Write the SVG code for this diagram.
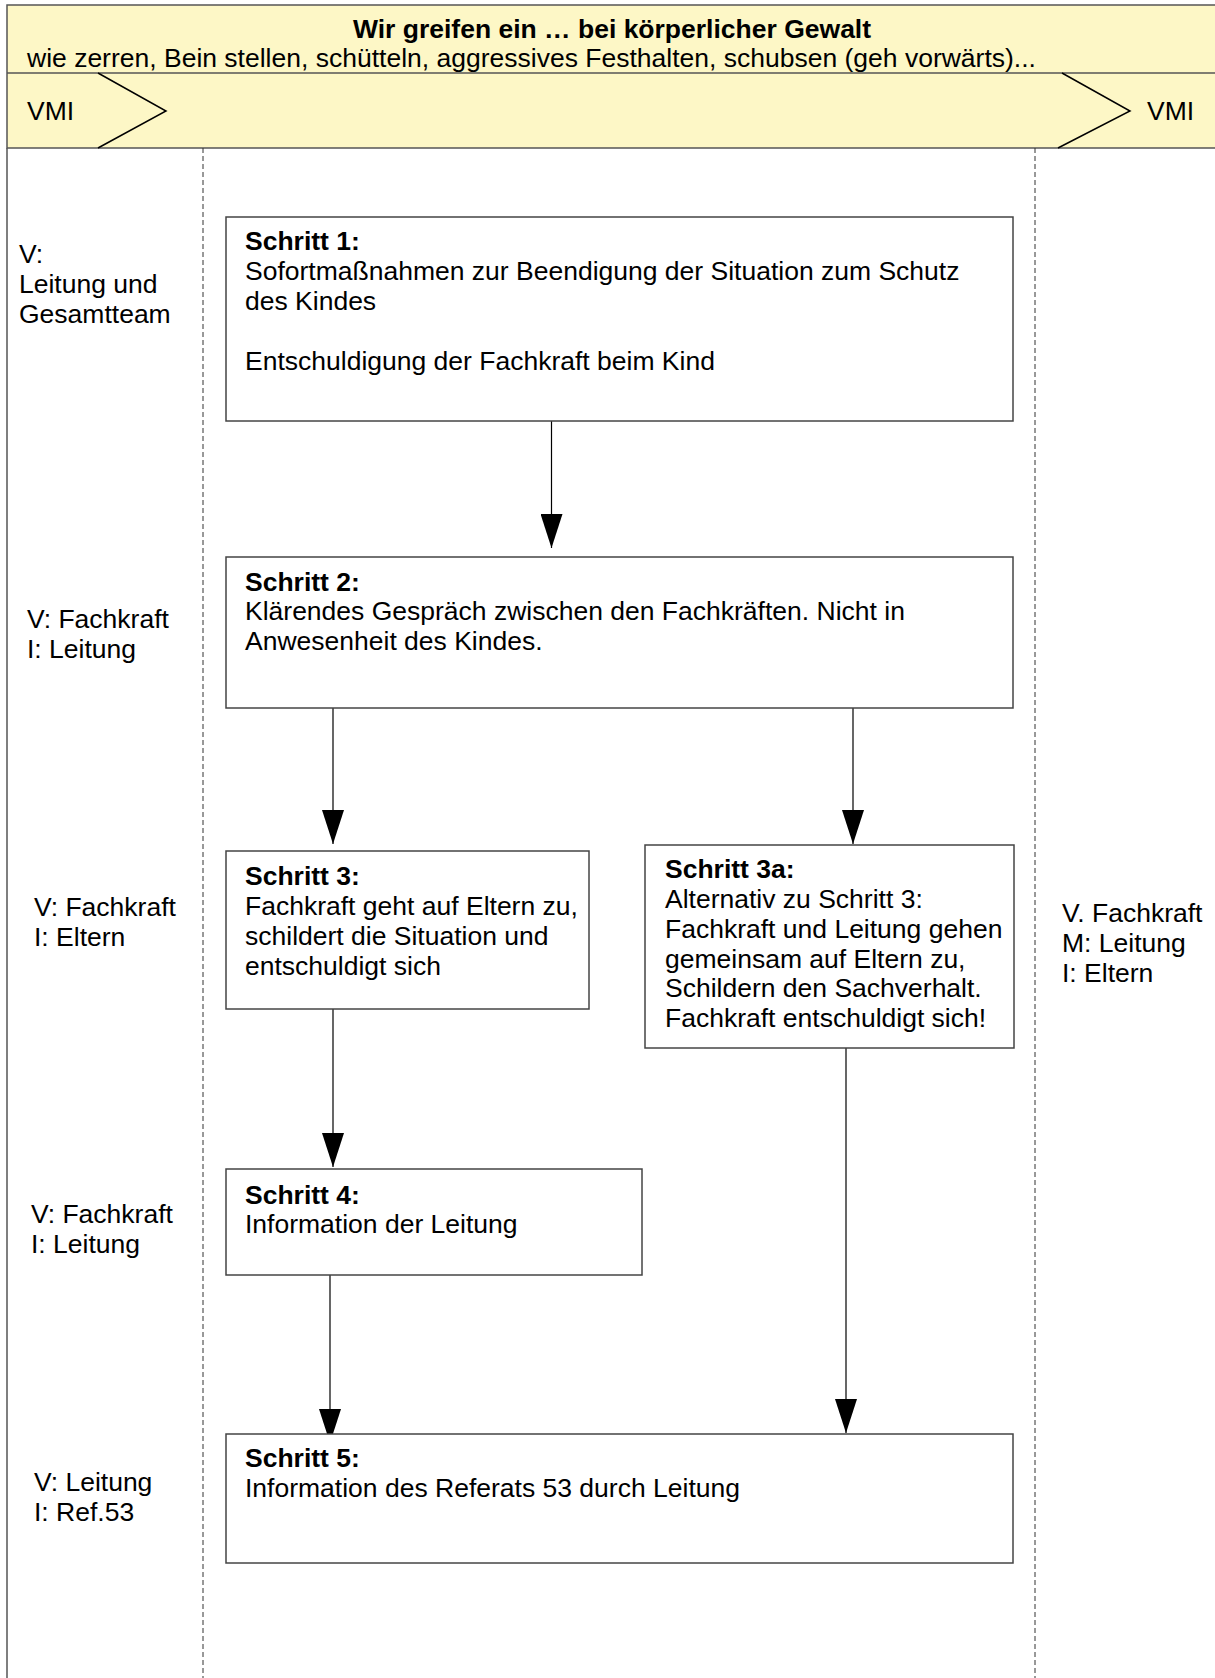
<svg xmlns="http://www.w3.org/2000/svg" width="1215" height="1678" viewBox="0 0 1215 1678">
<style>
text{font-family:"Liberation Sans",Arial,sans-serif;font-size:26.5px;fill:#000}
.b{font-weight:bold}
.box{fill:#fff;stroke:#444;stroke-width:1.5}
.lane{stroke:#333;stroke-width:1;stroke-dasharray:5 3;fill:none}
.con{stroke:#000;stroke-width:1.2;fill:none}
.chev{stroke:#000;stroke-width:1.5;fill:none}
</style>
<defs>
<marker id="ah" markerUnits="userSpaceOnUse" markerWidth="34" markerHeight="22" refX="34" refY="11" orient="auto" viewBox="0 0 34 22">
<path d="M0,0 L34,11 L0,22 Z" fill="#000"/>
</marker>
</defs>
<rect width="1215" height="1678" fill="#fff"/>
<g id="header">
<rect x="7" y="5" width="1215" height="143" fill="#fdf7c6" stroke="#555" stroke-width="1.5"/>
<line x1="7" y1="73" x2="1215" y2="73" stroke="#555" stroke-width="1.5"/>
<text class="b" x="612" y="38" text-anchor="middle">Wir greifen ein … bei körperlicher Gewalt</text>
<text x="27" y="67">wie zerren, Bein stellen, schütteln, aggressives Festhalten, schubsen (geh vorwärts)...</text>
<polyline class="chev" points="98,73 166,111 98,148"/>
<polyline class="chev" points="1062,73 1130,111 1058,148"/>
<text x="27" y="120">VMI</text>
<text x="1147" y="120">VMI</text>
</g>
<g id="lanes">
<line x1="7" y1="148" x2="7" y2="1678" stroke="#555" stroke-width="1.5"/>
<line class="lane" x1="203" y1="148" x2="203" y2="1678"/>
<line class="lane" x1="1035" y1="148" x2="1035" y2="1678"/>
</g>
<g id="roles">
<text x="19" y="263">V:</text>
<text x="19" y="293">Leitung und</text>
<text x="19" y="323">Gesamtteam</text>
<text x="27" y="628">V: Fachkraft</text>
<text x="27" y="658">I: Leitung</text>
<text x="34" y="916">V: Fachkraft</text>
<text x="34" y="946">I: Eltern</text>
<text x="31" y="1223">V: Fachkraft</text>
<text x="31" y="1253">I: Leitung</text>
<text x="34" y="1491">V: Leitung</text>
<text x="34" y="1521">I: Ref.53</text>
<text x="1062" y="922">V. Fachkraft</text>
<text x="1062" y="952">M: Leitung</text>
<text x="1062" y="982">I: Eltern</text>
</g>
<g id="connectors">
<line class="con" x1="551.5" y1="421" x2="551.5" y2="548" marker-end="url(#ah)"/>
<line class="con" x1="333" y1="708" x2="333" y2="844" marker-end="url(#ah)"/>
<line class="con" x1="853" y1="708" x2="853" y2="844" marker-end="url(#ah)"/>
<line class="con" x1="333" y1="1009" x2="333" y2="1167" marker-end="url(#ah)"/>
<line class="con" x1="330" y1="1275" x2="330" y2="1443" marker-end="url(#ah)"/>
<line class="con" x1="846" y1="1048" x2="846" y2="1433" marker-end="url(#ah)"/>
</g>
<g id="step1">
<rect class="box" x="226" y="217" width="787" height="204"/>
<text class="b" x="245" y="250">Schritt 1:</text>
<text x="245" y="280">Sofortmaßnahmen zur Beendigung der Situation zum Schutz</text>
<text x="245" y="310">des Kindes</text>
<text x="245" y="370">Entschuldigung der Fachkraft beim Kind</text>
</g>
<g id="step2">
<rect class="box" x="226" y="557" width="787" height="151"/>
<text class="b" x="245" y="591">Schritt 2:</text>
<text x="245" y="620">Klärendes Gespräch zwischen den Fachkräften. Nicht in</text>
<text x="245" y="650">Anwesenheit des Kindes.</text>
</g>
<g id="step3">
<rect class="box" x="226" y="851" width="363" height="158"/>
<text class="b" x="245" y="885">Schritt 3:</text>
<text x="245" y="915">Fachkraft geht auf Eltern zu,</text>
<text x="245" y="945">schildert die Situation und</text>
<text x="245" y="975">entschuldigt sich</text>
</g>
<g id="step3a">
<rect class="box" x="645" y="845" width="369" height="203"/>
<text class="b" x="665" y="878">Schritt 3a:</text>
<text x="665" y="908">Alternativ zu Schritt 3:</text>
<text x="665" y="938">Fachkraft und Leitung gehen</text>
<text x="665" y="968">gemeinsam auf Eltern zu,</text>
<text x="665" y="997">Schildern den Sachverhalt.</text>
<text x="665" y="1027">Fachkraft entschuldigt sich!</text>
</g>
<g id="step4">
<rect class="box" x="226" y="1169" width="416" height="106"/>
<text class="b" x="245" y="1204">Schritt 4:</text>
<text x="245" y="1233">Information der Leitung</text>
</g>
<g id="step5">
<rect class="box" x="226" y="1434" width="787" height="129"/>
<text class="b" x="245" y="1467">Schritt 5:</text>
<text x="245" y="1497">Information des Referats 53 durch Leitung</text>
</g>
</svg>
